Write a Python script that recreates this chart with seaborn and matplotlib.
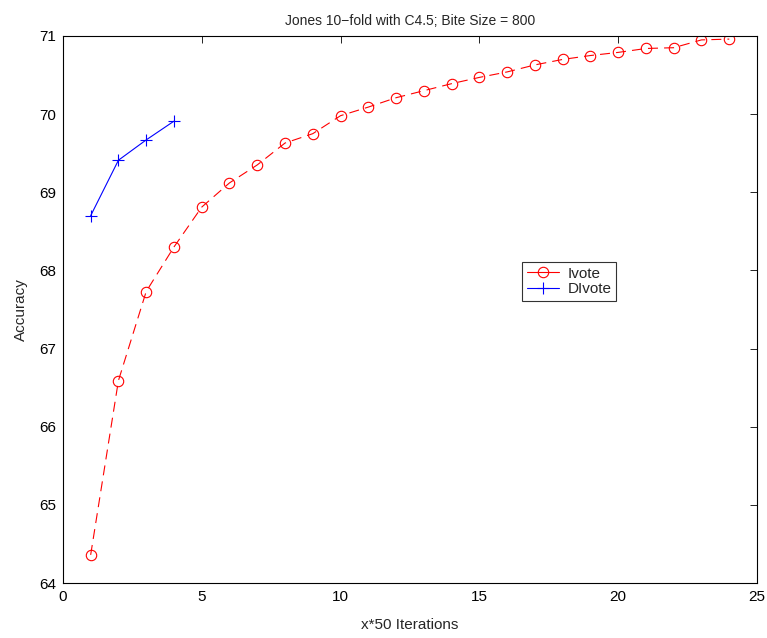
import matplotlib
matplotlib.use("Agg")
import matplotlib.pyplot as plt
import seaborn as sns
import pandas as pd

sns.set_style("white")
plt.rcParams['font.family'] = ['Liberation Sans', 'DejaVu Sans']

ivote_x = list(range(1, 25))
ivote_y = [64.36, 66.59, 67.73, 68.30, 68.81, 69.12, 69.35, 69.63, 69.75, 69.98,
           70.09, 70.21, 70.30, 70.39, 70.47, 70.54, 70.63, 70.70, 70.75, 70.79,
           70.84, 70.85, 70.95, 70.96]
dlvote_x = [1, 2, 3, 4]
dlvote_y = [68.70, 69.41, 69.67, 69.91]

fig = plt.figure(figsize=(7.67, 6.38), dpi=100)
ax = fig.add_axes([0.082, 0.0862, 0.905, 0.8574])

sns.lineplot(x=ivote_x, y=ivote_y, ax=ax, color='red', marker='o', markersize=7.5,
             markerfacecolor='none', markeredgecolor='red', markeredgewidth=0.8,
             linewidth=0.8, dashes=False, label='Ivote', linestyle=(0, (9, 5.5)))
sns.lineplot(x=dlvote_x, y=dlvote_y, ax=ax, color='blue', marker='+', markersize=9,
             markeredgewidth=0.8, markeredgecolor='blue', linewidth=0.8, label='DIvote')

ax.set_xlim(0, 25)
ax.set_ylim(64, 71)
ax.set_xticks([0, 5, 10, 15, 20, 25])
ax.set_yticks([64, 65, 66, 67, 68, 69, 70, 71])
ax.tick_params(direction='in', top=True, right=True, length=5, width=0.6,
               labelsize=11, colors='black', pad=5)
for s in ax.spines.values():
    s.set_linewidth(0.8)
    s.set_color('black')
ax.set_xlabel('x*50 Iterations', fontsize=11, labelpad=10)
ax.set_ylabel('Accuracy', fontsize=11, labelpad=8)
ax.set_title('Jones 10\u2212fold with C4.5; Bite Size = 800', fontsize=10, pad=8)

leg = ax.legend(loc='upper left', bbox_to_anchor=(0.6806, 0.5893),
                bbox_transform=fig.transFigure, fontsize=11, frameon=True,
                fancybox=False, edgecolor='black', borderpad=0.3,
                handlelength=2.1, handletextpad=0.6, labelspacing=0.1,
                borderaxespad=0)
leg.get_frame().set_linewidth(0.8)
for h in leg.get_lines():
    h.set_linestyle('-')

fig.savefig('out.png', dpi=100)
